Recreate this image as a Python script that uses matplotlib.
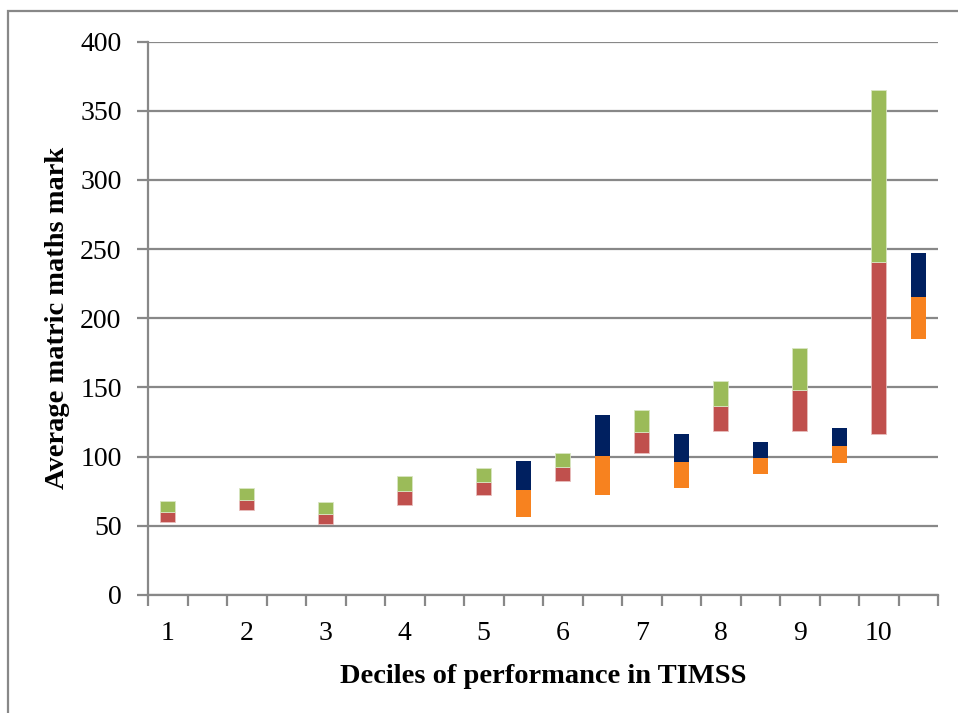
import numpy as np
import matplotlib.pyplot as plt
from matplotlib.patches import Rectangle

# deciles of performance in TIMSS
deciles = [1, 2, 3, 4, 5, 6, 7, 8, 9, 10]

# left bars (red lower part, green upper part)
a_low = [52.6, 61.2, 51.2, 64.8, 72.1, 82.7, 102.4, 118.8, 118.8, 116.4]
a_mid = [60.3, 68.8, 58.8, 75.2, 81.7, 92.3, 117.6, 136.4, 148.1, 240.9]
a_high = [67.9, 77.1, 66.9, 85.7, 91.7, 102.7, 133.5, 155.0, 178.4, 364.9]

# right bars (orange lower part, navy upper part), only deciles 5-10
b_low = [np.nan, np.nan, np.nan, np.nan, 56.3, 72.0, 77.1, 87.2, 95.2, 184.8]
b_mid = [np.nan, np.nan, np.nan, np.nan, 76.2, 100.7, 96.4, 98.7, 107.9, 215.6]
b_high = [np.nan, np.nan, np.nan, np.nan, 97.0, 130.4, 116.6, 110.8, 120.9, 247.4]

plt.rcParams["font.family"] = ["Liberation Serif", "DejaVu Serif"]
grey = "#888888"

fig = plt.figure(figsize=(9.58, 7.13), dpi=100)
ax = fig.add_axes([148 / 958, 1 - 595 / 713, 790 / 958, 553.5 / 713])

n = len(deciles)
x_a = np.arange(n) * 2
x_b = np.arange(n) * 2 + 1
a_low, a_mid, a_high = np.array(a_low), np.array(a_mid), np.array(a_high)
b_low, b_mid, b_high = np.array(b_low), np.array(b_mid), np.array(b_high)

w = 0.39
ax.bar(x_a, a_mid - a_low, w, bottom=a_low, color="#C0504D", edgecolor="#E8BEBD", linewidth=0.6, zorder=3)
ax.bar(x_a, a_high - a_mid, w, bottom=a_mid, color="#9BBB59", edgecolor="#D9E6C2", linewidth=0.6, zorder=3)
ax.bar(x_b, b_mid - b_low, w, bottom=b_low, color="#F7821F", linewidth=0, zorder=3)
ax.bar(x_b, b_high - b_mid, w, bottom=b_mid, color="#002060", linewidth=0, zorder=3)

ax.set_xlim(-0.5, 2 * n - 0.5)
ax.set_ylim(0, 400)
ax.set_yticks(np.arange(0, 401, 50))
ax.yaxis.grid(True, color=grey, linewidth=1.6)
ax.set_axisbelow(True)

ax.set_xticks(x_a)
ax.set_xticklabels([str(d) for d in deciles])
ax.set_xticks(np.arange(-0.5, 2 * n, 1), minor=True)
ax.tick_params(axis="x", which="major", length=0, pad=19, labelsize=20)
ax.tick_params(axis="x", which="minor", length=8, width=1.6, color=grey, direction="out")
ax.tick_params(axis="y", length=8, width=1.6, color=grey, pad=11, labelsize=20)

for s in ["top", "right"]:
    ax.spines[s].set_visible(False)
for s in ["left", "bottom"]:
    ax.spines[s].set_color(grey)
    ax.spines[s].set_linewidth(1.6)

ax.set_xlabel("Deciles of performance in TIMSS", fontsize=20.5, fontweight="bold", labelpad=13)
ax.set_ylabel("Average matric maths mark", fontsize=20.5, fontweight="bold", labelpad=7)

# outer chart frame
fig.patches.append(Rectangle((8 / 958, -0.1), 1.2, 1.1 - 11 / 713, transform=fig.transFigure,
                             fill=False, edgecolor=grey, linewidth=1.6))

plt.savefig("out.png", dpi=100)
